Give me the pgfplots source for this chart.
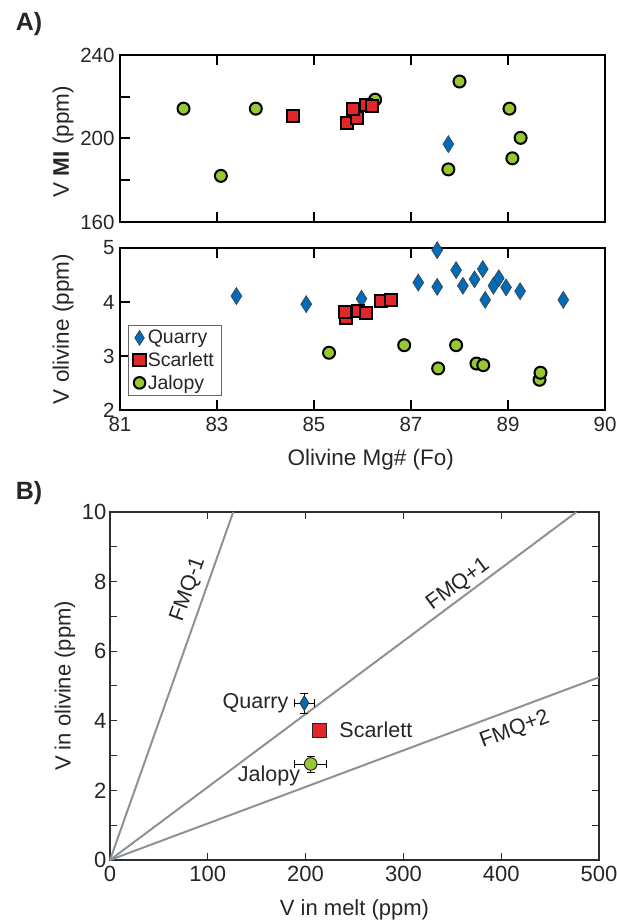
\documentclass[border=0pt]{standalone}
\usepackage{fontspec}
\setmainfont{Liberation Sans}
\usepackage{pgfplots}
\pgfplotsset{compat=1.18}
\definecolor{qblue}{RGB}{0,108,182}
\definecolor{sred}{RGB}{226,38,44}
\definecolor{jgreen}{RGB}{150,200,50}
\definecolor{fmq}{RGB}{140,146,152}
\definecolor{axgray}{RGB}{45,45,45}
\newcommand{\fs}[1]{\fontsize{#1}{#1}\selectfont}

\pgfplotstableread{
x y
87.77 197.3
}\AQ
\pgfplotstableread{
x y
84.57 211.0
85.68 207.5
85.88 209.9
85.81 214.3
86.08 216.2
86.19 215.4
}\AS
\pgfplotstableread{
x y
82.31 214.3
83.80 214.3
83.08 182.1
86.26 218.6
88.00 227.3
89.03 214.3
89.26 200.3
89.09 190.5
87.77 185.2
}\AJ
\pgfplotstableread{
x y
83.40 4.11
84.84 3.96
85.98 4.06
87.15 4.36
87.54 4.96
87.54 4.28
87.93 4.59
88.07 4.30
88.31 4.42
88.48 4.61
88.53 4.04
88.70 4.30
88.81 4.44
88.96 4.27
89.25 4.20
90.14 4.04
}\BQ
\pgfplotstableread{
x y
85.66 3.70
85.64 3.81
85.91 3.83
86.07 3.79
86.38 4.01
86.58 4.04
}\BS
\pgfplotstableread{
x y
85.31 3.06
86.86 3.20
87.56 2.77
87.93 3.20
88.35 2.86
88.49 2.83
89.65 2.56
89.67 2.69
}\BJ

\begin{document}
\begin{tikzpicture}[x=1pt,y=1pt]
\useasboundingbox (0,0) rectangle (617,924);
\pgfplotsset{
  Aaxis/.style={scale only axis, width=485pt, anchor=south west,
    xmin=81, xmax=91,
    axis line style={line width=2.4pt, black},
    every tick/.style={line width=2pt, black},
    major tick length=10pt, minor tick length=10pt,
    tick align=inside, xtick={83,85,87,89}, xtick pos=both, ytick pos=left,
    /pgf/number format/assume math mode=true,
    tick label style={font=\fs{20.5}, text=black!85},
    xticklabel style={yshift=-4pt},
    yticklabel style={xshift=-2pt},
    label style={font=\fs{22.5}, text=black!85},
    clip=false,
  },
  Qm/.style={only marks, mark=diamond*, mark size=8.5pt,
    mark options={xscale=0.85, fill=qblue, draw=black!75, line width=0.6pt}},
  Sm/.style={only marks, mark=square*, mark size=6pt,
    mark options={fill=sred, draw=black, line width=2pt}},
  Jm/.style={only marks, mark=*, mark size=6pt,
    mark options={fill=jgreen, draw=black, line width=2pt}},
}
% ---------- Panel A top ----------
\begin{axis}[Aaxis, at={(120pt,702pt)}, height=167pt,
  ymin=160, ymax=240, ytick={160,200,240}, minor ytick={180,220},
  xticklabels={},
  ylabel={V \textbf{MI} (ppm)},
  ylabel style={at={(axis description cs:-0.1175,0.48)}, anchor=center}]
\addplot[Jm] table {\AJ};
\addplot[Qm] table {\AQ};
\addplot[Sm] table {\AS};
\end{axis}
% ---------- Panel A bottom ----------
\begin{axis}[Aaxis, at={(120pt,514pt)}, height=162pt,
  ymin=2, ymax=5, ytick={2,3,4,5},
  xtick={81,83,85,87,89,91}, xticklabels={81,83,85,87,89,90},
  xlabel={Olivine Mg\# (Fo)},
  xlabel style={at={(axis description cs:0.517,-0.305)}, anchor=center},
  ylabel={V olivine (ppm)},
  ylabel style={at={(axis description cs:-0.1175,0.5)}, anchor=center},
  legend style={at={(axis description cs:0.0165,0.525)}, anchor=north west,
    draw=black!60, line width=0.7pt, font=\fs{19.5}, text=black!85,
    inner xsep=5pt, inner ysep=3pt, row sep=3pt,
    /tikz/every even column/.append style={column sep=0pt}},
  legend cell align=left]
\addplot[Qm, legend image post style={mark size=7.5pt}] table {\BQ};
\addlegendentry{Quarry}
\addplot[Sm, legend image post style={mark size=6.2pt}] table {\BS};
\addlegendentry{Scarlett}
\addplot[Jm, legend image post style={mark size=5.8pt}] table {\BJ};
\addlegendentry{Jalopy}
\end{axis}
% ---------- Panel B ----------
\begin{axis}[scale only axis, at={(110pt,64pt)}, anchor=south west,
  width=489pt, height=348pt,
  xmin=0, xmax=500, ymin=0, ymax=10,
  xtick={0,100,...,500}, ytick={0,2,...,10}, minor ytick={1,3,...,9},
  tick pos=both, tick align=inside,
  axis line style={axgray, line width=1.1pt},
  every tick/.style={axgray, line width=1pt},
  major tick length=7pt, minor tick length=7pt,
  /pgf/number format/assume math mode=true,
  tick label style={font=\fs{22}, text=black!85},
  xticklabel style={yshift=-3pt},
  label style={font=\fs{22}, text=black!85},
  xlabel={V in melt (ppm)},
  xlabel style={at={(axis description cs:0.5,-0.144)}, anchor=center},
  ylabel={V in olivine (ppm)},
  ylabel style={at={(axis description cs:-0.092,0.5)}, anchor=center},
  clip=false]
\addplot[fmq, line width=2pt] coordinates {(0,0) (126,10)};
\addplot[fmq, line width=2pt] coordinates {(0,0) (477,10)};
\addplot[fmq, line width=2pt] coordinates {(0,0) (500,5.25)};
\addplot[draw=none, mark=none, forget plot,
  error bars/.cd, x dir=both, x explicit, y dir=both, y explicit,
  error bar style={draw=black, line width=0.8pt},
  error mark options={rotate=90, draw=black, mark size=4pt, line width=0.8pt}]
  coordinates {(198.7,4.51) +- (10.2,0.29) (205.2,2.76) +- (16.5,0.23)};
\addplot[only marks, mark=diamond*, mark size=7.4pt,
  mark options={xscale=0.8, fill=qblue, draw=black!80, line width=0.8pt}]
  coordinates {(198.7,4.51)};
\addplot[only marks, mark=square*, mark size=7pt,
  mark options={fill=sred, draw=black!85, line width=1pt}]
  coordinates {(214.7,3.72)};
\addplot[only marks, mark=*, mark size=6.3pt,
  mark options={fill=jgreen, draw=black!85, line width=1pt}]
  coordinates {(205.2,2.76)};
\node[font=\fs{21.5}, text=black!85, anchor=east] at (axis cs:186,4.51) {Quarry};
\node[font=\fs{21.5}, text=black!85, anchor=west] at (axis cs:231,3.74) {Scarlett};
\node[font=\fs{21.5}, text=black!85, anchor=east] at (axis cs:198,2.41) {Jalopy};
\node[font=\fs{21.5}, text=black!85, rotate=70.5] at (axis cs:80,7.77) {FMQ-1};
\node[font=\fs{21.5}, text=black!85, rotate=36.7] at (axis cs:356,7.91) {FMQ+1};
\node[font=\fs{21.5}, text=black!85, rotate=20.5] at (axis cs:414,3.74) {FMQ+2};
\end{axis}
\node[font=\bfseries\fs{25}, text=black!85] at (29pt,900pt) {A)};
\node[font=\bfseries\fs{25}, text=black!85] at (29pt,431pt) {B)};
\end{tikzpicture}
\end{document}
